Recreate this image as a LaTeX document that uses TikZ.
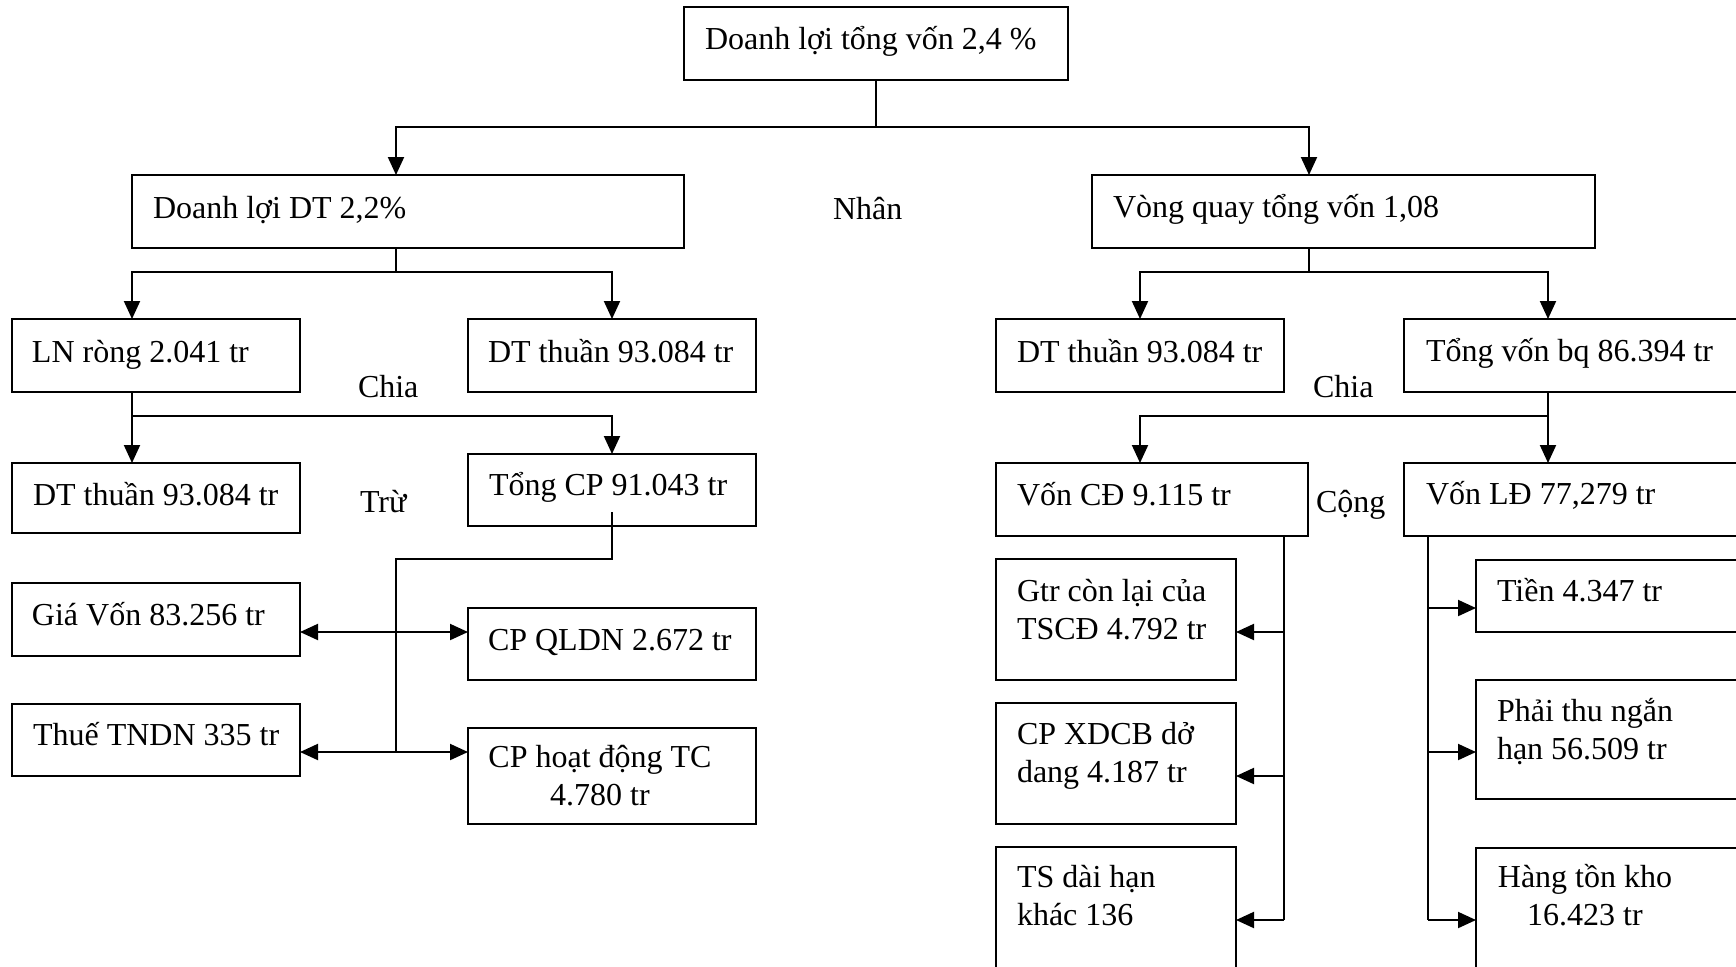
\documentclass[tikz,border=0pt]{standalone}
\usepackage{fontspec}
\setmainfont{Liberation Serif}
\usetikzlibrary{arrows.meta,calc}
\newcommand\ml[2]{\begin{tabular}[t]{@{}#1@{}}#2\end{tabular}}
\newcommand\bx[5]{\node[bx, minimum width={(#4-#2)*0.5pt}, minimum height={(#5-#3)*0.5pt}] (#1) at (#2,#3) {};}
\tikzset{
  bx/.style={draw, line width=1.1pt, rectangle, inner sep=0pt, outer sep=0pt, anchor=north west},
  tx/.style={inner sep=0pt, outer sep=0pt, anchor=base west, font=\fontsize{16}{19.25}\selectfont},
  txc/.style={inner sep=0pt, outer sep=0pt, anchor=base, font=\fontsize{16}{19.25}\selectfont},
  ln/.style={line width=1pt},
  arr/.style={line width=1pt, -{Triangle[length=9pt,width=8pt]}},
  darr/.style={line width=1pt, {Triangle[length=9pt,width=8pt]}-{Triangle[length=9pt,width=8pt]}}
}
\begin{document}
\begin{tikzpicture}[x=0.5pt,y=-0.5pt]
\useasboundingbox (0,0) rectangle (1736,966);
\fill[white] (0,0) rectangle (1736,966);
\clip (0,0) rectangle (1736,966);
% boxes
\bx{top}{684}{7}{1068}{80}
\bx{dldt}{132}{175}{684}{248}
\bx{vq}{1092}{175}{1595}{248}
\bx{lnr}{12}{319}{300}{392}
\bx{dtta}{468}{319}{756}{392}
\bx{dttb}{996}{319}{1284}{392}
\bx{tvbq}{1404}{319}{1760}{392}
\bx{dttc}{12}{463}{300}{533}
\bx{tongcp}{468}{454}{756}{526}
\bx{voncd}{996}{463}{1308}{536}
\bx{vonld}{1404}{463}{1760}{536}
\bx{giavon}{12}{583}{300}{656}
\bx{cpqldn}{468}{608}{756}{680}
\bx{thue}{12}{704}{300}{776}
\bx{cphd}{468}{728}{756}{824}
\bx{gtr}{996}{559}{1236}{680}
\bx{xdcb}{996}{703}{1236}{824}
\bx{tsdh}{996}{847}{1236}{1000}
\bx{tien}{1476}{560}{1760}{632}
\bx{phaithu}{1476}{680}{1760}{799}
\bx{htk}{1476}{848}{1760}{1000}
% texts
\node[tx] (t-top) at (705,49) {Doanh lợi tổng vốn 2,4 \%};
\node[tx] (t-nhan) at (833,219) {Nhân};
\node[tx] (t-dldt) at (153,218) {Doanh lợi DT 2,2\%};
\node[tx] (t-vq) at (1113,217) {Vòng quay tổng vốn 1,08};
\node[tx] (t-lnr) at (32,362) {LN ròng 2.041 tr};
\node[tx] (t-dtta) at (488,362) {DT thuần 93.084 tr};
\node[tx] (t-dttb) at (1017,362) {DT thuần 93.084 tr};
\node[tx] (t-tvbq) at (1426,361) {Tổng vốn bq 86.394 tr};
\node[tx] (t-chia1) at (358,397) {Chia};
\node[tx] (t-chia2) at (1313,397) {Chia};
\node[tx] (t-dttc) at (33,505) {DT thuần 93.084 tr};
\node[tx] (t-tru) at (360,512) {Trừ};
\node[tx] (t-tongcp) at (489,495) {Tổng CP 91.043 tr};
\node[tx] (t-voncd) at (1017,505) {Vốn CĐ 9.115 tr};
\node[tx] (t-cong) at (1316,512) {Cộng};
\node[tx] (t-vonld) at (1426,504) {Vốn LĐ 77,279 tr};
\node[tx] (t-giavon) at (32,625) {Giá Vốn 83.256 tr};
\node[tx] (t-cpqldn) at (488,650) {CP QLDN 2.672 tr};
\node[tx] (t-thue) at (33,745) {Thuế TNDN 335 tr};
\node[txc] (t-cphd) at (600,767) {\ml{c}{CP hoạt động TC\\ 4.780 tr}};
\node[tx] (t-gtr) at (1017,601) {\ml{l}{Gtr còn lại của\\TSCĐ 4.792 tr}};
\node[tx] (t-xdcb) at (1017,744) {\ml{l}{CP XDCB dở\\dang 4.187 tr}};
\node[tx] (t-tsdh) at (1017,887) {\ml{l}{TS dài hạn\\khác 136}};
\node[tx] (t-tien) at (1497,601) {Tiền 4.347 tr};
\node[tx] (t-phaithu) at (1497,721) {\ml{l}{Phải thu ngắn\\hạn 56.509 tr}};
\node[txc] (t-htk) at (1585,887) {\ml{c}{Hàng tồn kho\\16.423 tr}};
% connectors
\draw[ln] (top.south) -- ++(0,47) coordinate (j0);
\draw[arr] (j0) -| ($(dldt.north west)+(264,0)$);
\draw[arr] (j0) -| ($(vq.north west)+(217,0)$);
\draw[ln] ($(dldt.south west)+(264,0)$) -- ++(0,24) coordinate (j1);
\draw[arr] (j1) -| ($(lnr.north west)+(120,0)$);
\draw[arr] (j1) -| ($(dtta.north west)+(144,0)$);
\draw[ln] ($(vq.south west)+(217,0)$) -- ++(0,24) coordinate (j2);
\draw[arr] (j2) -| ($(dttb.north west)+(144,0)$);
\draw[arr] (j2) -| ($(tvbq.north west)+(144,0)$);
\draw[ln] ($(lnr.south west)+(120,0)$) -- ++(0,24) coordinate (j3);
\draw[arr] (j3) -- ($(dttc.north west)+(120,0)$);
\draw[arr] (j3) -| ($(tongcp.north west)+(144,0)$);
\draw[ln] ($(tvbq.south west)+(144,0)$) -- ++(0,24) coordinate (j4);
\draw[arr] (j4) -| ($(voncd.north west)+(144,0)$);
\draw[arr] (j4) -- ($(vonld.north west)+(144,0)$);
\draw[ln] ($(tongcp.south west)+(144,-14)$) -- ++(0,47) -| ($(thue.north east)+(96,48)$);
\draw[darr] ($(giavon.north east)+(0,49)$) -- ($(cpqldn.north west)+(0,24)$);
\draw[darr] ($(thue.north east)+(0,48)$) -- ($(cphd.north west)+(0,24)$);
\draw[ln] ($(voncd.south west)+(288,0)$) -- ($(tsdh.north east)+(48,73)$);
\draw[arr] ($(gtr.north east)+(48,73)$) -- ($(gtr.north east)+(0,73)$);
\draw[arr] ($(xdcb.north east)+(48,73)$) -- ($(xdcb.north east)+(0,73)$);
\draw[arr] ($(tsdh.north east)+(48,73)$) -- ($(tsdh.north east)+(0,73)$);
\draw[ln] ($(vonld.south west)+(24,0)$) -- ($(htk.north west)+(-48,72)$);
\draw[arr] ($(tien.north west)+(-48,48)$) -- ($(tien.north west)+(0,48)$);
\draw[arr] ($(phaithu.north west)+(-48,72)$) -- ($(phaithu.north west)+(0,72)$);
\draw[arr] ($(htk.north west)+(-48,72)$) -- ($(htk.north west)+(0,72)$);
\end{tikzpicture}
\end{document}
